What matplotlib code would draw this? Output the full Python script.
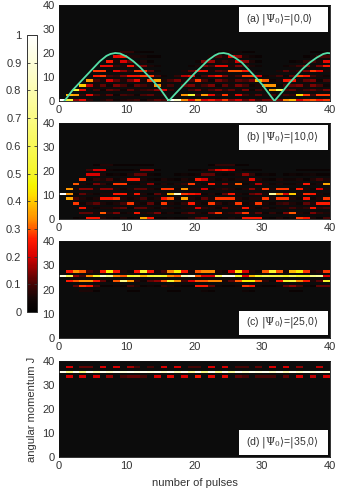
#!/usr/bin/env python3
"""Rotational wave packet populations vs number of pulses, four initial states."""
import numpy as np
import matplotlib
matplotlib.use("Agg")
import matplotlib.pyplot as plt
from matplotlib.colors import LinearSegmentedColormap

plt.rcParams['font.family'] = ['Liberation Sans', 'DejaVu Sans']
plt.rcParams['mathtext.fontset'] = 'dejavuserif'

# populations in percent, one row per J, one column per pulse
a_J = [0, 2, 4, 6, 8, 10, 12, 14, 16, 18, 20]
a_vals = [
    [100, 52, 15, 22, 8, 0, 6, 10, 5, 6, 8, 10, 4, 8, 12, 10, 100, 85, 33, 22, 33, 20, 25, 18, 28, 15, 20, 12, 18, 10, 14, 14, 14, 33, 38, 20, 28, 30, 25, 28],
    [0, 38, 35, 8, 22, 10, 6, 12, 4, 10, 8, 4, 10, 12, 6, 8, 0, 6, 34, 52, 10, 35, 22, 8, 28, 6, 22, 10, 6, 12, 6, 10, 6, 10, 8, 42, 28, 10, 28, 28],
    [0, 0, 52, 22, 0, 10, 4, 12, 10, 4, 12, 6, 8, 10, 15, 20, 8, 0, 0, 10, 14, 6, 10, 14, 8, 12, 6, 14, 4, 10, 6, 36, 60, 10, 12, 6, 10, 12, 8, 14],
    [0, 0, 0, 40, 18, 6, 12, 4, 14, 10, 4, 12, 10, 6, 34, 6, 10, 0, 12, 14, 6, 10, 14, 4, 12, 6, 14, 10, 4, 6, 34, 34, 4, 10, 12, 14, 6, 14, 10, 4],
    [0, 0, 0, 0, 34, 10, 6, 20, 12, 6, 14, 22, 6, 28, 36, 6, 10, 14, 6, 10, 28, 10, 4, 14, 10, 6, 12, 10, 14, 38, 30, 4, 6, 25, 25, 6, 12, 14, 4, 10],
    [0, 0, 0, 0, 0, 25, 28, 10, 8, 14, 24, 24, 28, 28, 10, 4, 0, 8, 18, 22, 4, 10, 18, 26, 14, 6, 10, 28, 28, 20, 4, 6, 10, 4, 12, 28, 25, 10, 6, 4],
    [0, 0, 0, 0, 0, 28, 28, 4, 22, 15, 8, 28, 28, 12, 4, 0, 0, 0, 6, 12, 24, 24, 6, 12, 10, 30, 30, 25, 6, 4, 0, 0, 6, 12, 6, 8, 14, 28, 22, 6],
    [0, 0, 0, 0, 0, 0, 22, 22, 8, 6, 24, 8, 14, 6, 4, 0, 0, 0, 0, 4, 6, 14, 10, 22, 22, 6, 14, 10, 6, 4, 0, 0, 0, 4, 6, 10, 14, 6, 14, 25],
    [0, 0, 0, 0, 0, 0, 0, 25, 6, 20, 12, 4, 6, 3, 0, 0, 0, 0, 0, 0, 4, 14, 16, 6, 8, 6, 20, 15, 6, 3, 0, 0, 0, 0, 3, 4, 8, 10, 6, 22],
    [0, 0, 0, 0, 0, 0, 0, 0, 22, 25, 6, 6, 5, 3, 3, 0, 0, 0, 0, 0, 0, 0, 6, 10, 6, 22, 15, 6, 4, 3, 0, 0, 0, 0, 0, 0, 3, 5, 10, 10],
    [0, 0, 0, 0, 0, 0, 0, 0, 3, 8, 8, 4, 3, 3, 0, 0, 0, 0, 0, 0, 0, 0, 0, 3, 4, 5, 5, 3, 3, 0, 0, 0, 0, 0, 0, 0, 0, 3, 3, 4],
]
b_J = [0, 2, 4, 6, 8, 10, 12, 14, 16, 18, 20, 22]
b_vals = [
    [0, 0, 3, 4, 25, 25, 6, 4, 3, 6, 3, 4, 36, 25, 3, 3, 4, 3, 3, 6, 12, 15, 4, 3, 4, 6, 4, 25, 25, 25, 4, 3, 6, 3, 4, 28, 25, 6, 3, 10],
    [0, 0, 0, 12, 12, 6, 30, 8, 14, 4, 6, 25, 6, 8, 14, 4, 6, 3, 8, 12, 6, 4, 14, 28, 6, 8, 14, 28, 6, 12, 4, 8, 4, 14, 30, 6, 4, 14, 8, 6],
    [0, 0, 0, 25, 6, 4, 6, 6, 10, 12, 4, 12, 12, 6, 4, 8, 6, 4, 6, 6, 20, 8, 6, 4, 12, 6, 6, 25, 6, 4, 8, 4, 6, 6, 10, 6, 8, 25, 8, 10],
    [0, 0, 28, 4, 8, 12, 6, 4, 6, 10, 28, 6, 4, 12, 4, 28, 6, 4, 8, 26, 6, 4, 28, 8, 4, 6, 28, 4, 6, 28, 6, 4, 8, 10, 6, 4, 12, 6, 26, 26],
    [0, 36, 10, 6, 4, 6, 25, 25, 28, 6, 4, 6, 10, 4, 6, 25, 30, 4, 36, 6, 4, 12, 6, 28, 28, 28, 6, 4, 6, 6, 28, 6, 28, 28, 6, 4, 25, 4, 6, 28],
    [100, 34, 4, 12, 6, 4, 6, 6, 25, 25, 6, 25, 6, 3, 12, 6, 38, 85, 28, 25, 22, 4, 6, 3, 12, 25, 6, 4, 12, 15, 6, 75, 33, 20, 40, 6, 27, 25, 6, 4],
    [0, 34, 6, 15, 15, 6, 15, 15, 6, 4, 6, 12, 12, 6, 4, 28, 28, 4, 34, 6, 6, 20, 4, 6, 8, 6, 4, 6, 15, 6, 28, 6, 28, 28, 4, 26, 6, 4, 20, 6],
    [0, 0, 30, 6, 4, 14, 8, 4, 28, 28, 4, 4, 6, 15, 4, 6, 4, 6, 8, 28, 6, 4, 25, 6, 15, 6, 30, 4, 6, 18, 6, 4, 6, 4, 4, 6, 25, 4, 6, 36],
    [0, 0, 0, 28, 4, 8, 6, 10, 4, 6, 25, 25, 6, 4, 3, 6, 4, 3, 6, 4, 25, 20, 6, 4, 6, 4, 6, 6, 22, 6, 4, 3, 6, 4, 4, 6, 3, 6, 10, 6],
    [0, 0, 0, 0, 20, 20, 6, 3, 4, 3, 6, 12, 12, 4, 3, 0, 0, 3, 4, 3, 4, 12, 12, 4, 3, 4, 6, 15, 8, 3, 4, 3, 0, 3, 4, 3, 4, 5, 3, 3],
    [0, 0, 0, 0, 10, 20, 20, 4, 3, 3, 3, 4, 15, 15, 3, 0, 0, 0, 0, 3, 3, 4, 12, 22, 25, 20, 5, 3, 3, 3, 0, 0, 0, 0, 0, 3, 3, 3, 3, 3],
    [0, 0, 0, 0, 0, 3, 6, 6, 3, 3, 3, 3, 3, 3, 0, 0, 0, 0, 0, 0, 0, 0, 3, 8, 8, 8, 3, 3, 0, 0, 0, 0, 0, 0, 0, 0, 0, 0, 0, 0],
]
c_J = [19, 21, 23, 25, 27]
c_vals = [
    [0, 0, 0, 6, 6, 3, 0, 0, 0, 0, 3, 3, 0, 0, 0, 0, 3, 3, 0, 0, 0, 4, 3, 0, 0, 0, 0, 4, 3, 0, 0, 0, 0, 0, 3, 3, 0, 0, 0, 0],
    [0, 0, 12, 28, 25, 10, 3, 3, 4, 3, 10, 6, 3, 4, 3, 8, 6, 4, 3, 3, 25, 25, 12, 4, 3, 3, 4, 28, 25, 4, 3, 3, 4, 12, 15, 10, 4, 3, 12, 12],
    [0, 26, 30, 34, 34, 25, 12, 4, 30, 70, 34, 8, 4, 12, 15, 30, 50, 34, 10, 20, 30, 30, 33, 33, 6, 12, 30, 45, 45, 30, 8, 4, 25, 50, 55, 33, 25, 6, 12, 50],
    [90, 60, 15, 10, 33, 50, 85, 70, 33, 30, 50, 55, 38, 50, 55, 50, 33, 30, 80, 90, 30, 20, 20, 60, 95, 95, 50, 20, 38, 50, 60, 55, 55, 50, 60, 50, 50, 70, 75, 20],
    [0, 25, 34, 30, 10, 6, 25, 45, 25, 6, 4, 25, 50, 25, 6, 10, 33, 45, 25, 6, 30, 33, 33, 6, 4, 20, 42, 20, 6, 4, 30, 50, 30, 6, 38, 45, 28, 6, 8, 28],
]
d_J = [33, 35, 37]
d_vals = [
    [0, 20, 0, 20, 0, 20, 0, 16, 0, 10, 12, 12, 10, 0, 20, 0, 22, 0, 20, 0, 25, 0, 22, 0, 22, 0, 12, 10, 0, 10, 10, 10, 0, 12, 0, 20, 0, 18, 0, 20],
    [95, 70, 95, 70, 95, 80, 95, 85, 95, 90, 95, 90, 95, 90, 95, 85, 95, 80, 95, 75, 95, 70, 95, 70, 95, 75, 95, 85, 95, 90, 95, 85, 95, 80, 95, 85, 95, 90, 95, 90],
    [0, 20, 0, 12, 12, 0, 20, 0, 20, 0, 17, 10, 0, 10, 0, 20, 0, 20, 0, 10, 10, 0, 20, 0, 20, 0, 10, 10, 0, 12, 0, 20, 0, 20, 0, 15, 0, 0, 18, 0],
]

# green curve over panel (a)
curve_x = [0.8, 2, 3, 4, 5, 6, 7, 7.6, 8.3, 9, 10, 11, 12, 13, 14, 15, 16.2,
           17, 18, 19, 20, 21, 22, 23, 23.6, 24.3, 25, 26, 27, 28, 29, 30, 31, 31.8,
           33, 34, 35, 36, 37, 38, 39, 39.6, 40]
curve_y = [0, 4.5, 7.5, 10.5, 13.5, 16.5, 18.8, 19.6, 20, 19.8, 18.5, 16.5, 14, 11, 8, 4.8, 0,
           2.5, 5.5, 8.5, 11.5, 14.2, 17, 19, 19.8, 20, 19.6, 18, 16, 13, 10, 6.8, 3, 0,
           4, 7.5, 10.5, 13.5, 16, 18, 19.6, 20, 19.9]

labels = [r"(a) $|\Psi_0\rangle$=$|$0,0$\rangle$", r"(b) $|\Psi_0\rangle$=$|$10,0$\rangle$",
          r"(c) $|\Psi_0\rangle$=$|$25,0$\rangle$", r"(d) $|\Psi_0\rangle$=$|$35,0$\rangle$"]
bar_ticks = [0, 0.1, 0.2, 0.3, 0.4, 0.5, 0.6, 0.7, 0.8, 0.9, 1]
panels = [(a_J, a_vals), (b_J, b_vals), (c_J, c_vals), (d_J, d_vals)]

W, H = 338, 497
# pixel boxes: top, bottom of each panel, and where its label box sits
tops = [5, 123, 241, 361]
bots = [101, 219, 338, 457]
box_y = [(7, 32), (125, 150), (311, 335), (430, 455)]

cmap = LinearSegmentedColormap.from_list("pop", [
    (0, "#000000"), (0.05, "#140606"), (0.1, "#460404"), (0.15, "#8c0202"), (0.2, "#d80000"),
    (0.26, "#ff1a00"), (0.33, "#ff8a00"), (0.42, "#ffdc00"), (0.46, "#f6f600"), (0.5, "#f6f62a"),
    (0.7, "#fbfb84"), (0.85, "#fdfdc6"), (1, "#ffffff")])


def px_axes(fig, x0, x1, y0, y1):
    return fig.add_axes([x0 / W, 1 - y1 / H, (x1 - x0) / W, (y1 - y0) / H])


def main():
    fig = plt.figure(figsize=(W / 100, H / 100), dpi=100)
    x_edges = np.arange(41)
    for i, (rows, vals) in enumerate(panels):
        ax = px_axes(fig, 59, 330, tops[i], bots[i])
        ax.set_facecolor("#0c0c0c")
        grid = np.zeros((41, 40))
        grid[rows, :] = np.array(vals) / 100.0
        mesh = ax.pcolormesh(x_edges, np.arange(42), np.ma.masked_equal(grid, 0),
                             cmap=cmap, vmin=0, vmax=1, linewidth=0)
        ax.set_xlim(0, 40)
        ax.set_ylim(0, 40)
        ax.set_xticks([0, 10, 20, 30, 40])
        ax.set_yticks([0, 10, 20, 30, 40])
        ax.tick_params(labelsize=8, length=0, pad=3, colors="#333333")
        for sp in ax.spines.values():
            sp.set_linewidth(0.6)
            sp.set_color("#111111")
        # label box is placed in pixels, like the original annotation
        ya, yb = box_y[i]
        ax.add_patch(plt.Rectangle((239 / W, 1 - yb / H), 89 / W, (yb - ya) / H,
                                   transform=fig.transFigure, facecolor="white",
                                   edgecolor="none", zorder=5))
        ax.text(246 / W, 1 - (ya + yb) / 2 / H, labels[i], transform=fig.transFigure,
                fontsize=7.6, ha="left", va="center", color="#333333", zorder=6)

    axes = fig.axes
    axes[0].plot(curve_x, curve_y, color="#55e0a8", linewidth=1.3, zorder=4, clip_on=True)
    axes[3].set_xlabel("number of pulses", fontsize=8, color="#333333", labelpad=5)
    axes[3].set_ylabel("angular momentum J", fontsize=8, color="#333333", labelpad=4)

    cax = px_axes(fig, 27, 36.5, 35, 312)
    cb = fig.colorbar(mesh, cax=cax)
    cb.set_ticks(bar_ticks)
    cb.set_ticklabels(["0", "0.1", "0.2", "0.3", "0.4", "0.5", "0.6", "0.7", "0.8", "0.9", "1"])
    cax.yaxis.set_ticks_position("left")
    cax.tick_params(labelsize=8, length=2.5, width=0.6, direction="in", pad=4,
                    colors="#333333", right=True)
    cb.outline.set_linewidth(0.7)
    cb.outline.set_edgecolor("#333333")

    fig.savefig("out.png", dpi=100)


if __name__ == "__main__":
    main()
